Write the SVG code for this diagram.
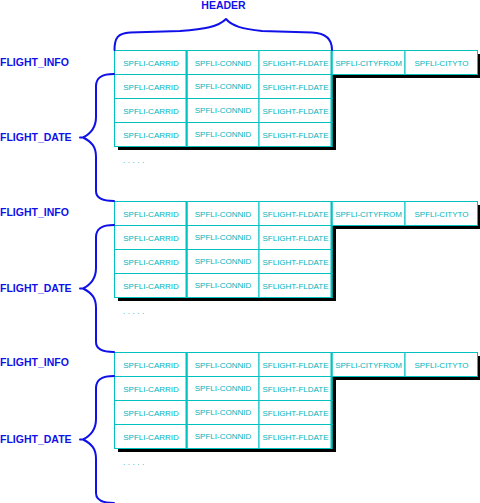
<svg xmlns="http://www.w3.org/2000/svg" width="480" height="503" viewBox="0 0 480 503">
<style>
.bg{fill:#ffffff}
.shadow{fill:#000000}
.cell{fill:#ffffff;stroke:#00C0C0;stroke-width:1}
.thick{stroke:#00C0C0;stroke-width:2;fill:none}
.ct{font-family:"Liberation Sans",Arial,sans-serif;font-size:8px;fill:#00B4BC;text-anchor:middle}
.dots{font-family:"Liberation Sans",Arial,sans-serif;font-size:8px;fill:#00B4BC;letter-spacing:2.5px}
.lbl{font-family:"Liberation Sans",Arial,sans-serif;font-size:10.5px;font-weight:bold;fill:#1010E8}
.brace{fill:none;stroke:#1010E8;stroke-width:2;stroke-linejoin:round;stroke-linecap:round}
</style>
<defs>
<g id="tbl">
<polygon class="shadow" points="118,4 482,4 482,28 336,28 336,100 118,100"/>
<rect class="cell" x="114.5" y="0.5" width="72.5" height="24"/>
<rect class="cell" x="187" y="0.5" width="72" height="24"/>
<rect class="cell" x="259" y="0.5" width="73" height="24"/>
<rect class="cell" x="332" y="0.5" width="73" height="24"/>
<rect class="cell" x="405" y="0.5" width="72.5" height="24"/>
<rect class="cell" x="114.5" y="24.5" width="72.5" height="24"/>
<rect class="cell" x="187" y="24.5" width="72" height="24"/>
<rect class="cell" x="259" y="24.5" width="73" height="24"/>
<rect class="cell" x="114.5" y="48.5" width="72.5" height="24"/>
<rect class="cell" x="187" y="48.5" width="72" height="24"/>
<rect class="cell" x="259" y="48.5" width="73" height="24"/>
<rect class="cell" x="114.5" y="72.5" width="72.5" height="24"/>
<rect class="cell" x="187" y="72.5" width="72" height="24"/>
<rect class="cell" x="259" y="72.5" width="73" height="24"/>
<line class="thick" x1="186.5" y1="0" x2="186.5" y2="97"/>
<line class="thick" x1="331.5" y1="0" x2="331.5" y2="97"/>
<text class="ct" x="151" y="15.5">SPFLI-CARRID</text>
<text class="ct" x="223" y="15.5">SPFLI-CONNID</text>
<text class="ct" x="295.5" y="15.5">SFLIGHT-FLDATE</text>
<text class="ct" x="368.5" y="15.5">SPFLI-CITYFROM</text>
<text class="ct" x="441.5" y="15.5">SPFLI-CITYTO</text>
<text class="ct" x="151" y="39.5">SPFLI-CARRID</text>
<text class="ct" x="223" y="38.5">SPFLI-CONNID</text>
<text class="ct" x="295.5" y="39.5">SFLIGHT-FLDATE</text>
<text class="ct" x="151" y="63.5">SPFLI-CARRID</text>
<text class="ct" x="223" y="62.5">SPFLI-CONNID</text>
<text class="ct" x="295.5" y="63.5">SFLIGHT-FLDATE</text>
<text class="ct" x="151" y="87.5">SPFLI-CARRID</text>
<text class="ct" x="223" y="86.5">SPFLI-CONNID</text>
<text class="ct" x="295.5" y="87.5">SFLIGHT-FLDATE</text>
<text class="dots" x="123" y="113">.....</text>
</g>
<path id="br" class="brace" d="M114,0 C104,0 96,2 96,12 L96,43 C96,53 92,59 83,63.5 C92,68 96,73 96,83 L96,117 C96,125 104,127 114,127 M80,63.5 H83"/>
</defs>

<rect class="bg" x="0" y="0" width="480" height="503"/>

<g id="header">
<text class="lbl" x="223.5" y="9" text-anchor="middle">HEADER</text>
</g>

<g id="block1">
<use href="#tbl" x="0" y="50"/>
<text class="lbl" x="0" y="66">FLIGHT_INFO</text>
<text class="lbl" x="0" y="141">FLIGHT_DATE</text>
</g>
<g id="block2">
<use href="#tbl" x="0" y="201"/>
<text class="lbl" x="0" y="216">FLIGHT_INFO</text>
<text class="lbl" x="0" y="292">FLIGHT_DATE</text>
</g>
<g id="block3">
<use href="#tbl" x="0" y="352"/>
<text class="lbl" x="0" y="366">FLIGHT_INFO</text>
<text class="lbl" x="0" y="443">FLIGHT_DATE</text>
</g>

<g id="connectors">
<path class="brace" d="M114.5,50 C114.5,38 118,33 130,32.5 L180,31 C205,29 218,27 226,19 C232,26 242,29 262,31 L312,32.5 C325,33 332,38 332,50"/>
<use href="#br" x="0" y="74"/>
<use href="#br" x="0" y="225"/>
<use href="#br" x="0" y="376"/>
</g>
</svg>
